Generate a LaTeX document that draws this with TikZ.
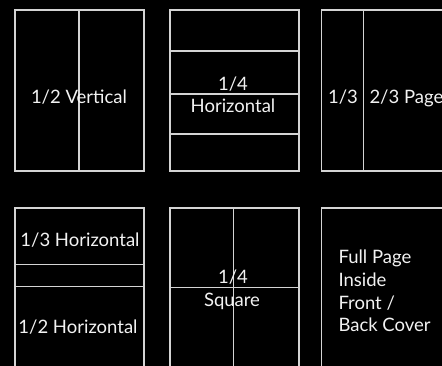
\documentclass[tikz,border=0pt]{standalone}
\usepackage{fontspec}
\setmainfont{Lato}
\begin{document}
\begin{tikzpicture}[x=1pt,y=-1pt,
  frame/.style={draw=linegray,line width=1.3pt},
  lbl/.style={text=textwhite,inner sep=0pt,font=\fontsize{18.5}{22}\selectfont},
  lblc/.style={lbl,anchor=base},
  lbll/.style={lbl,anchor=base west}]
\definecolor{linegray}{HTML}{D4D4D4}
\definecolor{textwhite}{HTML}{F2F2F2}
\useasboundingbox (0,0) rectangle (442,366);
\fill[black] (0,0) rectangle (442,366);
\clip (0,0) rectangle (442,366);
% row 1
\draw[frame] (15,10) rectangle (144,171);
\draw[frame] (79,10) -- (79,171);
\draw[frame] (170,10) rectangle (299,171);
\draw[frame] (170,51) -- (299,51);
\draw[frame] (170,94) -- (299,94);
\draw[frame] (170,134) -- (299,134);
\draw[frame] (321.5,10) rectangle (451,171);
\draw[frame] (363.7,10) -- (363.7,171);
% row 2
\draw[frame] (15,208) rectangle (144,370);
\draw[frame] (15,264.3) -- (144,264.3);
\draw[frame] (15,286.7) -- (144,286.7);
\draw[frame] (170,208) rectangle (299,370);
\draw[frame] (170,287.7) -- (299,287.7);
\draw[frame] (233.7,208) -- (233.7,370);
\draw[frame] (321.5,208) rectangle (451,370);
% labels
\node[lblc] (v) at (79,104) {1/2 Vertical};
\node[lblc] (q1) at (233,91) {1/4};
\node[lblc] (q2) at (233,112.5) {Horizontal};
\node[lblc] (t1) at (343,103.3) {1/3};
\node[lbll] (t2) at (369.3,103.3) {2/3 Page};
\node[lblc] (h3) at (80,246.5) {1/3 Horizontal};
\node[lblc] (h2) at (78,333) {1/2 Horizontal};
\node[lblc] (s1) at (233,283.5) {1/4};
\node[lblc] (s2) at (232,306) {Square};
\node[lbll] (f1) at (338.3,264) {Full Page};
\node[lbll] (f2) at (338.3,286.5) {Inside};
\node[lbll] (f3) at (338.3,309) {Front /};
\node[lbll] (f4) at (338.3,331) {Back Cover};
\end{tikzpicture}
\end{document}
